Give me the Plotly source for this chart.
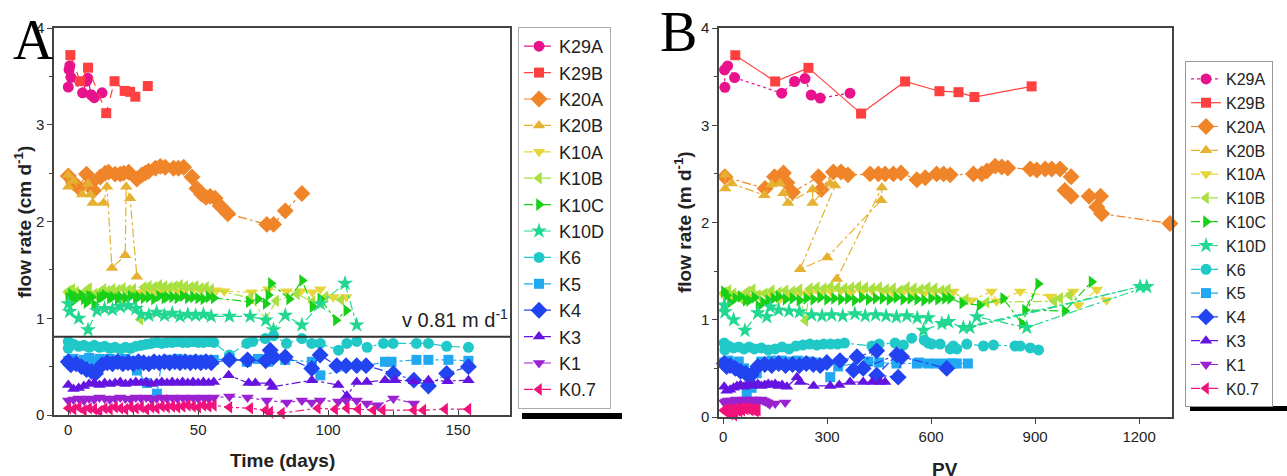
import plotly.graph_objects as go

W, H = 1287, 476

names = ["K29A", "K29B", "K20A", "K20B", "K10A", "K10B", "K10C", "K10D",
         "K6", "K5", "K4", "K3", "K1", "K0.7"]
colors = ["#e8128c", "#ff4040", "#f08428", "#e6b030", "#e6d63a", "#a8e040",
          "#18d018", "#22d890", "#20c8c8", "#22a8f0", "#2244f0", "#6414e0",
          "#9a22d0", "#f0127a"]
symbols = ["circle", "square", "diamond", "triangle-up", "triangle-down",
           "triangle-left", "triangle-right", "star", "circle", "square",
           "diamond", "triangle-up", "triangle-down", "triangle-left"]

# ---------------- Panel A : time (days) ----------------
tA_K29A = [0, 0.3, 0.6, 1, 5.5, 7, 7.5, 8.8, 10, 13]
vA_K29A = [3.39, 3.57, 3.61, 3.49, 3.33, 3.45, 3.48, 3.31, 3.28, 3.33]

tA_K29B = [0.8, 4.6, 7.6, 14.6, 17.8, 21.7, 23.8, 25.8, 30.6]
vA_K29B = [3.72, 3.45, 3.59, 3.12, 3.45, 3.35, 3.34, 3.29, 3.40]

tA_K20A = [0, 2, 4, 7, 8.5, 9.7, 12.3, 14.2, 15.5, 18, 20, 21.3, 23.2, 26.4, 28.3,
           29.6, 30.9, 33.5, 35.4, 37.3, 40.5, 42.4, 44.4, 47.6, 49.5, 51.4, 53,
           54.6, 56.5, 58.5, 61.4, 76.4, 79, 83.5, 89.9]
vA_K20A = [2.47, 2.40, 2.35, 2.49, 2.39, 2.32, 2.46, 2.50, 2.51, 2.49, 2.49, 2.50,
           2.51, 2.44, 2.48, 2.50, 2.52, 2.55, 2.57, 2.56, 2.55, 2.55, 2.56, 2.46,
           2.34, 2.28, 2.25, 2.26, 2.24, 2.16, 2.08, 1.97, 1.97, 2.11, 2.29]

tA_K20B = [0, 0, 2, 5.3, 7.6, 8.5, 9.4, 13.6, 14.9, 16.8, 21.9, 22.3, 23.8, 26.4]
vA_K20B = [2.48, 2.36, 2.42, 2.28, 2.39, 2.28, 2.19, 2.19, 2.36, 1.52, 1.65, 2.36,
           2.24, 1.43]

tA_K10A = [0, 3, 6, 9, 12, 15, 18, 21, 24, 27, 30, 33, 36, 39, 42, 45, 48, 51, 54,
           57, 60, 70.5, 77, 84, 89.5, 94, 97, 102, 107]
vA_K10A = [1.25, 1.24, 1.26, 1.25, 1.24, 1.27, 1.26, 1.20, 1.25, 1.27, 1.28, 1.27,
           1.29, 1.30, 1.28, 1.29, 1.30, 1.29, 1.28, 1.29, 1.28, 1.27, 1.30, 1.28,
           1.28, 1.27, 1.30, 1.22, 1.22]

tA_K10B = [0, 1.5, 3, 5, 7, 8, 10, 12, 13.5, 15, 17, 19, 21, 23, 25, 27.7, 29, 31,
           33, 35, 37, 39, 41, 43, 45, 47, 49, 51, 53, 55, 70, 76, 80, 88, 94, 99, 105]
vA_K10B = [1.28, 1.30, 1.27, 1.22, 1.29, 1.31, 1.25, 1.27, 1.30, 1.28, 1.30, 1.29,
           1.31, 1.29, 1.30, 0.99, 1.32, 1.33, 1.32, 1.34, 1.33, 1.32, 1.33, 1.34,
           1.33, 1.32, 1.33, 1.31, 1.32, 1.30, 1.21, 0.99, 1.18, 1.25, 1.17, 1.22, 1.19]

tA_K10C = [0, 1, 2, 3, 5, 6, 7, 8, 9, 10, 12, 13, 14, 16, 17, 19, 20, 22, 24, 26,
           27, 29, 31, 33, 35, 37, 38, 40, 42, 44, 46, 48, 50, 52, 54, 56, 69.5, 73,
           76, 77, 78, 85, 90, 94, 97, 103, 107]
vA_K10C = [1.21, 1.25, 1.18, 1.22, 1.24, 1.20, 1.16, 1.23, 1.22, 1.14, 1.21, 1.22,
           1.24, 1.21, 1.22, 1.20, 1.22, 1.21, 1.23, 1.21, 1.22, 1.21, 1.22, 1.20,
           1.23, 1.21, 1.22, 1.22, 1.21, 1.23, 1.21, 1.22, 1.21, 1.20, 1.22, 1.21,
           1.17, 1.20, 1.15, 1.24, 1.36, 1.20, 1.39, 1.12, 1.20, 0.98, 1.08]

tA_K10D = [0, 0.5, 4, 7.6, 11, 14, 17, 20, 23, 26, 28, 31, 34, 37, 40, 43, 46, 49,
           52, 55, 62, 70, 76, 79, 83.5, 89.9, 97, 106.5, 111]
vA_K10D = [1.15, 1.07, 1.00, 0.88, 1.08, 1.10, 1.09, 1.12, 1.13, 1.10, 1.04, 1.03,
           1.06, 1.03, 1.05, 1.02, 1.04, 1.03, 1.04, 1.02, 1.02, 1.02, 0.98, 0.88,
           1.03, 0.93, 1.15, 1.36, 0.93]

tA_K6 = [0, 0, 2, 4, 6, 8, 10, 12, 14, 16, 18, 20, 22, 24, 26, 28, 30, 32, 34, 36,
         38, 40, 42, 44, 46, 48, 50, 52, 54, 56, 62, 68.7, 71, 75.8, 79, 84, 89.9,
         93.7, 97, 104, 107.2, 111, 115, 121.3, 125, 134, 138.6, 145.6, 154]
vA_K6 = [0.76, 0.69, 0.73, 0.71, 0.72, 0.70, 0.72, 0.70, 0.71, 0.69, 0.70, 0.68,
         0.70, 0.69, 0.71, 0.72, 0.73, 0.74, 0.75, 0.74, 0.75, 0.75, 0.76, 0.75,
         0.75, 0.76, 0.75, 0.75, 0.76, 0.75, 0.62, 0.74, 0.76, 0.79, 0.82, 0.74,
         0.79, 0.74, 0.74, 0.67, 0.74, 0.76, 0.70, 0.74, 0.74, 0.74, 0.74, 0.71, 0.70]

tA_K5 = [0, 2, 4, 6, 8, 10, 12, 14, 16, 18, 20, 22, 24, 26.4, 30.3, 34.1, 36, 38,
         40, 42, 44, 46, 48, 50, 52, 54, 56, 62, 68.7, 73, 77, 83.5, 93.7, 97,
         121.9, 124.4, 134, 138.6, 146.3, 154]
vA_K5 = [0.56, 0.58, 0.55, 0.57, 0.59, 0.56, 0.58, 0.57, 0.58, 0.56, 0.57, 0.58,
         0.56, 0.46, 0.33, 0.22, 0.55, 0.57, 0.56, 0.58, 0.57, 0.56, 0.57, 0.56,
         0.57, 0.56, 0.57, 0.58, 0.55, 0.58, 0.55, 0.57, 0.55, 0.41, 0.55, 0.55,
         0.57, 0.57, 0.57, 0.56]

tA_K4 = [0, 1, 3, 5, 7, 9, 10.5, 13, 15, 17, 19, 21, 23, 25, 27, 29, 31, 33, 35, 37,
         39, 41, 43, 45, 47, 49, 51, 53, 55, 62, 69, 76, 77.7, 79, 83.5, 93.7, 96.9,
         103.3, 106.9, 111, 114.6, 125.1, 133, 138.6, 145.6, 154]
vA_K4 = [0.55, 0.52, 0.53, 0.50, 0.47, 0.45, 0.43, 0.52, 0.54, 0.53, 0.55, 0.53,
         0.54, 0.53, 0.55, 0.54, 0.53, 0.55, 0.54, 0.55, 0.54, 0.55, 0.54, 0.55,
         0.54, 0.55, 0.54, 0.55, 0.54, 0.57, 0.57, 0.56, 0.67, 0.60, 0.60, 0.48,
         0.62, 0.51, 0.51, 0.51, 0.51, 0.43, 0.36, 0.30, 0.43, 0.50]

tA_K3 = [0, 2, 4, 6, 8, 10, 12, 14, 16, 18, 20, 22, 24, 26, 28, 30, 32, 34, 36, 38,
         40, 42, 44, 46, 48, 50, 52, 54, 56, 61.7, 69.4, 72, 77.7, 78.6, 93.7, 103.9,
         107.2, 111, 114.9, 121.9, 125.8, 133, 138.6, 146, 154]
vA_K3 = [0.31, 0.27, 0.28, 0.30, 0.32, 0.33, 0.31, 0.33, 0.32, 0.33, 0.34, 0.32,
         0.33, 0.34, 0.33, 0.34, 0.32, 0.33, 0.34, 0.33, 0.34, 0.33, 0.34, 0.33,
         0.34, 0.33, 0.34, 0.33, 0.34, 0.41, 0.33, 0.33, 0.33, 0.29, 0.36, 0.31,
         0.20, 0.34, 0.34, 0.36, 0.36, 0.35, 0.36, 0.35, 0.36]

tA_K1 = [0, 2, 4, 6, 8, 10, 12, 14, 16, 18, 20, 22, 24, 26, 28, 30, 32, 34, 36, 38,
         40, 42, 44, 46, 48, 50, 52, 54, 56, 62, 69, 76.4, 84.1, 89.9, 93.7, 96.9,
         103.9, 106.9, 111, 114.9, 119, 125.1, 133]
vA_K1 = [0.15, 0.16, 0.17, 0.15, 0.17, 0.16, 0.18, 0.17, 0.16, 0.17, 0.18, 0.17,
         0.16, 0.18, 0.17, 0.18, 0.16, 0.17, 0.18, 0.17, 0.18, 0.17, 0.18, 0.17,
         0.18, 0.17, 0.18, 0.17, 0.18, 0.19, 0.18, 0.15, 0.13, 0.15, 0.13, 0.15,
         0.14, 0.15, 0.15, 0.12, 0.10, 0.17, 0.12]

tA_K07 = [0, 2, 4, 6, 8, 10, 12, 14, 16, 18, 20, 22, 24, 26, 28, 30, 32, 34, 36, 38,
          40, 42, 44, 46, 48, 50, 52, 54, 56, 62, 70, 76, 77.7, 82.2, 96, 102.7,
          107.2, 111.6, 117.4, 121, 133, 136.6, 145, 154]
vA_K07 = [0.07, 0.06, 0.08, 0.05, 0.07, 0.06, 0.04, 0.07, 0.06, 0.08, 0.07, 0.06,
          0.08, 0.07, 0.08, 0.06, 0.08, 0.07, 0.09, 0.08, 0.09, 0.08, 0.09, 0.10,
          0.09, 0.08, 0.10, 0.09, 0.10, 0.08, 0.07, 0.05, 0.03, 0.02, 0.07, 0.06,
          0.07, 0.06, 0.05, 0.05, 0.05, 0.05, 0.06, 0.06]

# ---------------- Panel B : pore volumes ----------------
pvB_K29A = [5, 4, 13, 33, 169, 206, 236, 254, 280, 366]
vB_K29A = [3.39, 3.57, 3.61, 3.49, 3.33, 3.45, 3.48, 3.31, 3.28, 3.33]

pvB_K29B = [35, 150, 246, 398, 525, 624, 679, 725, 890]
vB_K29B = [3.72, 3.45, 3.59, 3.12, 3.45, 3.35, 3.34, 3.29, 3.40]

pvB_K20A = [5, 121, 148, 174, 184, 200, 275, 283, 318, 340, 360, 424, 448, 467, 491,
            513, 559, 583, 616, 636, 655, 722, 746, 761, 785, 804, 821, 886, 905,
            929, 948, 972, 1004, 986, 1004, 1056, 1089, 1078, 1092, 1289]
vB_K20A = [2.47, 2.35, 2.47, 2.51, 2.41, 2.31, 2.47, 2.34, 2.52, 2.52, 2.49, 2.50,
           2.50, 2.50, 2.50, 2.51, 2.44, 2.46, 2.50, 2.50, 2.49, 2.50, 2.50, 2.53,
           2.58, 2.57, 2.56, 2.55, 2.54, 2.55, 2.55, 2.55, 2.47, 2.33, 2.27, 2.27,
           2.27, 2.16, 2.09, 1.99]

pvB_K20B = [6, 6, 25, 119, 140, 164, 174, 187, 258, 258, 309, 323, 222, 300, 456,
            458, 328]
vB_K20B = [2.49, 2.35, 2.40, 2.28, 2.39, 2.40, 2.30, 2.20, 2.34, 2.20, 2.40, 2.38,
           1.52, 1.64, 2.23, 2.36, 1.42]

pvB_K10A = [3, 20, 40, 60, 80, 100, 130, 160, 190, 220, 250, 280, 310, 340, 370, 400,
            430, 460, 490, 520, 550, 580, 610, 640, 664, 698, 717, 774, 789, 857,
            943, 1010, 1025, 1078, 1106]
vB_K10A = [1.25, 1.24, 1.26, 1.25, 1.24, 1.27, 1.26, 1.20, 1.25, 1.27, 1.28, 1.27,
           1.29, 1.30, 1.28, 1.29, 1.30, 1.29, 1.28, 1.29, 1.28, 1.27, 1.29, 1.28,
           1.29, 1.20, 1.20, 1.29, 1.19, 1.29, 1.24, 1.29, 1.15, 1.31, 1.20]

pvB_K10B = [3, 15, 30, 50, 70, 85, 100, 120, 140, 160, 180, 200, 220, 237, 250, 270,
            290, 310, 330, 350, 370, 390, 410, 430, 450, 470, 490, 510, 530, 550,
            570, 590, 610, 630, 648, 700, 760, 955, 972, 1000]
vB_K10B = [1.28, 1.30, 1.27, 1.22, 1.29, 1.31, 1.25, 1.27, 1.30, 1.28, 1.30, 1.29,
           1.31, 0.99, 1.32, 1.33, 1.32, 1.34, 1.33, 1.32, 1.33, 1.34, 1.33, 1.32,
           1.33, 1.31, 1.32, 1.30, 1.33, 1.32, 1.31, 1.33, 1.32, 1.30, 1.31, 1.21,
           1.18, 1.19, 1.22, 1.25]

pvB_K10C = [2, 10, 20, 35, 50, 65, 75, 90, 102, 115, 130, 145, 160, 180, 200, 220,
            240, 260, 280, 300, 320, 340, 360, 380, 400, 420, 440, 460, 480, 500,
            520, 540, 560, 580, 600, 620, 640, 655, 690, 740, 808, 862, 909, 871,
            986, 1063]
vB_K10C = [1.29, 1.25, 1.18, 1.22, 1.24, 1.20, 1.20, 1.23, 1.14, 1.18, 1.20, 1.22,
           1.24, 1.21, 1.22, 1.20, 1.22, 1.21, 1.23, 1.21, 1.22, 1.21, 1.22, 1.20,
           1.23, 1.21, 1.22, 1.22, 1.21, 1.23, 1.21, 1.22, 1.21, 1.20, 1.22, 1.21,
           1.22, 1.22, 1.17, 1.15, 1.22, 0.96, 1.37, 1.10, 1.09, 1.39]

pvB_K10D = [3, 5, 30, 63, 100, 126, 136, 160, 190, 220, 255, 285, 313, 345, 380, 410,
            440, 470, 500, 530, 560, 592, 578, 631, 650, 693, 1203, 712, 732, 876, 1222]
vB_K10D = [1.15, 1.08, 1.00, 0.89, 1.07, 1.03, 1.13, 1.10, 1.09, 1.08, 1.05, 1.04,
           1.05, 1.04, 1.06, 1.04, 1.05, 1.04, 1.03, 1.04, 1.02, 1.02, 0.89, 0.96,
           0.98, 0.92, 1.34, 0.92, 1.03, 0.92, 1.34]

pvB_K6 = [3, 5, 15, 30, 45, 60, 75, 90, 110, 130, 150, 170, 190, 210, 230, 250, 270,
          290, 310, 330, 350, 429, 450, 496, 520, 544, 580, 592, 602, 626, 655, 664,
          674, 703, 751, 780, 842, 857, 886, 910]
vB_K6 = [0.76, 0.69, 0.73, 0.71, 0.72, 0.70, 0.72, 0.70, 0.71, 0.69, 0.70, 0.72,
         0.70, 0.73, 0.74, 0.75, 0.74, 0.75, 0.75, 0.75, 0.76, 0.73, 0.75, 0.76,
         0.74, 0.81, 0.79, 0.76, 0.75, 0.75, 0.70, 0.73, 0.70, 0.75, 0.73, 0.74,
         0.73, 0.73, 0.71, 0.69]

pvB_K5 = [3, 15, 30, 45, 60, 68, 82, 97, 110, 125, 140, 155, 170, 185, 200, 215, 230,
          245, 265, 309, 332, 419, 450, 500, 559, 565, 592, 617, 645, 660, 674, 706]
vB_K5 = [0.56, 0.58, 0.55, 0.57, 0.50, 0.24, 0.30, 0.45, 0.57, 0.56, 0.58, 0.57,
         0.58, 0.56, 0.57, 0.58, 0.56, 0.57, 0.56, 0.41, 0.52, 0.57, 0.56, 0.55,
         0.55, 0.56, 0.55, 0.55, 0.55, 0.55, 0.55, 0.55]

pvB_K4 = [3, 10, 20, 35, 50, 65, 80, 100, 120, 140, 160, 180, 200, 220, 240, 260, 280,
          299, 337, 386, 443, 376, 404, 501, 443, 505, 515, 645]
vB_K4 = [0.55, 0.52, 0.53, 0.50, 0.47, 0.45, 0.43, 0.52, 0.54, 0.53, 0.55, 0.53,
         0.54, 0.53, 0.55, 0.54, 0.53, 0.56, 0.58, 0.62, 0.68, 0.48, 0.50, 0.64,
         0.43, 0.41, 0.62, 0.50]

pvB_K3 = [3, 10, 20, 30, 40, 50, 60, 70, 80, 90, 100, 110, 120, 130, 140, 150, 160,
          170, 184, 213, 222, 261, 309, 335, 366, 404, 430, 453, 467]
vB_K3 = [0.31, 0.27, 0.28, 0.30, 0.32, 0.33, 0.31, 0.33, 0.32, 0.33, 0.34, 0.32,
         0.33, 0.34, 0.33, 0.34, 0.32, 0.33, 0.31, 0.41, 0.36, 0.32, 0.32, 0.33,
         0.36, 0.36, 0.36, 0.36, 0.36]

pvB_K1 = [3, 8, 14, 20, 26, 32, 38, 44, 50, 56, 62, 68, 74, 80, 86, 92, 98, 104, 110,
          116, 122, 128, 134, 150, 179]
vB_K1 = [0.15, 0.16, 0.17, 0.15, 0.17, 0.16, 0.18, 0.17, 0.16, 0.17, 0.18, 0.17,
         0.16, 0.18, 0.17, 0.18, 0.16, 0.17, 0.18, 0.17, 0.16, 0.15, 0.13, 0.14, 0.15]

pvB_K07 = [2, 5, 8, 11, 14, 17, 20, 23, 26, 29, 32, 35, 38, 41, 44, 47, 50, 55, 60,
           65, 70, 75, 80, 85, 90, 95, 100]
vB_K07 = [0.07, 0.06, 0.08, 0.05, 0.07, 0.06, 0.03, 0.07, 0.06, 0.08, 0.02, 0.06,
          0.08, 0.07, 0.08, 0.06, 0.08, 0.07, 0.09, 0.08, 0.09, 0.08, 0.07, 0.08,
          0.07, 0.06, 0.07]

seriesA = [(tA_K29A, vA_K29A), (tA_K29B, vA_K29B), (tA_K20A, vA_K20A),
           (tA_K20B, vA_K20B), (tA_K10A, vA_K10A), (tA_K10B, vA_K10B),
           (tA_K10C, vA_K10C), (tA_K10D, vA_K10D), (tA_K6, vA_K6), (tA_K5, vA_K5),
           (tA_K4, vA_K4), (tA_K3, vA_K3), (tA_K1, vA_K1), (tA_K07, vA_K07)]
seriesB = [(pvB_K29A, vB_K29A), (pvB_K29B, vB_K29B), (pvB_K20A, vB_K20A),
           (pvB_K20B, vB_K20B), (pvB_K10A, vB_K10A), (pvB_K10B, vB_K10B),
           (pvB_K10C, vB_K10C), (pvB_K10D, vB_K10D), (pvB_K6, vB_K6),
           (pvB_K5, vB_K5), (pvB_K4, vB_K4), (pvB_K3, vB_K3), (pvB_K1, vB_K1),
           (pvB_K07, vB_K07)]

dashA = ["dashdot", "dash"] + ["dashdot"] * 12
dashB = ["dot", "solid"] + ["dashdot"] * 12
msize = {"circle": 11, "square": 10, "diamond": 13, "triangle-up": 11,
         "triangle-down": 11, "triangle-left": 11, "triangle-right": 11, "star": 12}

fig = go.Figure()
for i, name in enumerate(names):
    x, y = seriesA[i]
    fig.add_trace(go.Scatter(
        x=x, y=y, name=name, mode="lines+markers", xaxis="x", yaxis="y",
        legend="legend", cliponaxis=False,
        line=dict(color=colors[i], width=1.2, dash=dashA[i]),
        marker=dict(symbol=symbols[i], size=msize[symbols[i]], color=colors[i],
                    line=dict(width=0))))
for i, name in enumerate(names):
    x, y = seriesB[i]
    fig.add_trace(go.Scatter(
        x=x, y=y, name=name, mode="lines+markers", xaxis="x2", yaxis="y2",
        legend="legend2", cliponaxis=False,
        line=dict(color=colors[i], width=1.2, dash=dashB[i]),
        marker=dict(symbol=symbols[i], size=msize[symbols[i]], color=colors[i],
                    line=dict(width=0))))

FONT = "Liberation Sans, Arial, sans-serif"
axis_common = dict(showline=True, linecolor="#444", linewidth=1.5, mirror=True,
                   showgrid=False, zeroline=False, ticklen=5,
                   tickwidth=1.2, tickcolor="#444",
                   tickfont=dict(family=FONT, size=15, color="#222"))


def px_x(p):
    return p / W


def px_y(p):
    return 1 - p / H


fig.update_layout(
    width=W, height=H, paper_bgcolor="white", plot_bgcolor="white",
    margin=dict(l=0, r=0, t=0, b=0, autoexpand=False),
    font=dict(family=FONT, color="#222"),
    xaxis=dict(domain=[px_x(54), px_x(510)], range=[-5.5, 170], anchor="y",
               tickvals=[0, 50, 100, 150], ticks="inside",
               minor=dict(dtick=25, tick0=0, ticks="inside", ticklen=4,
                          tickcolor="#444"),
               **axis_common),
    yaxis=dict(domain=[px_y(415), px_y(28)], range=[0, 4], anchor="x",
               tickvals=[0, 1, 2, 3, 4], ticks="outside",
               minor=dict(dtick=0.5, tick0=0, ticks="outside", ticklen=3,
                          tickcolor="#444"),
               **axis_common),
    xaxis2=dict(domain=[px_x(719), px_x(1172)], range=[-12, 1295], anchor="y2",
                tickvals=[0, 300, 600, 900, 1200], ticks="outside", **axis_common),
    yaxis2=dict(domain=[px_y(417), px_y(28)], range=[0, 4], anchor="x2",
                tickvals=[0, 1, 2, 3, 4], ticks="outside",
                minor=dict(dtick=0.5, tick0=0, ticks="outside", ticklen=3,
                           tickcolor="#444"),
                **axis_common),
    legend=dict(x=px_x(518), y=px_y(27), xanchor="left", yanchor="top",
                bordercolor="#aaa", borderwidth=1, bgcolor="white",
                font=dict(family=FONT, size=18, color="#222"),
                traceorder="normal"),
    legend2=dict(x=px_x(1185), y=px_y(61), xanchor="left", yanchor="top",
                 bordercolor="#999", borderwidth=1, bgcolor="white",
                 font=dict(family=FONT, size=16, color="#222"),
                 traceorder="normal"),
    showlegend=True,
)

# reference line v = 0.81 in panel A
fig.add_shape(type="line", xref="x domain", yref="y", x0=0, x1=1, y0=0.81, y1=0.81,
              line=dict(color="#333", width=2))
# black bars under the legends
fig.add_shape(type="rect", xref="paper", yref="paper", x0=px_x(522), x1=px_x(622),
              y0=px_y(419), y1=px_y(413), fillcolor="black", line=dict(width=0))
fig.add_shape(type="rect", xref="paper", yref="paper", x0=px_x(1190), x1=1.0,
              y0=px_y(411), y1=px_y(406), fillcolor="black", line=dict(width=0))

SERIF = "Liberation Serif, Times New Roman, serif"
ann = [
    dict(text="A", x=px_x(33), y=px_y(40), font=dict(family=SERIF, size=56, color="black")),
    dict(text="B", x=px_x(678), y=px_y(32), font=dict(family=SERIF, size=56, color="black")),
    dict(text="v 0.81 m d<sup>-1</sup>", x=px_x(455), y=px_y(318),
         font=dict(family=FONT, size=20, color="#222")),
    dict(text="<b>flow rate (cm d<sup>-1</sup>)</b>", x=px_x(23), y=px_y(222),
         textangle=-90, font=dict(family=FONT, size=19, color="#222")),
    dict(text="<b>flow rate (m d<sup>-1</sup>)</b>", x=px_x(683), y=px_y(222),
         textangle=-90, font=dict(family=FONT, size=19, color="#222")),
    dict(text="<b>Time (days)</b>", x=px_x(282), y=px_y(460),
         font=dict(family=FONT, size=19, color="#222")),
    dict(text="<b>PV</b>", x=px_x(945), y=px_y(469),
         font=dict(family=FONT, size=19, color="#222")),
]
for a in ann:
    fig.add_annotation(xref="paper", yref="paper", showarrow=False,
                       xanchor="center", yanchor="middle", **a)

fig.write_html("out.html")
